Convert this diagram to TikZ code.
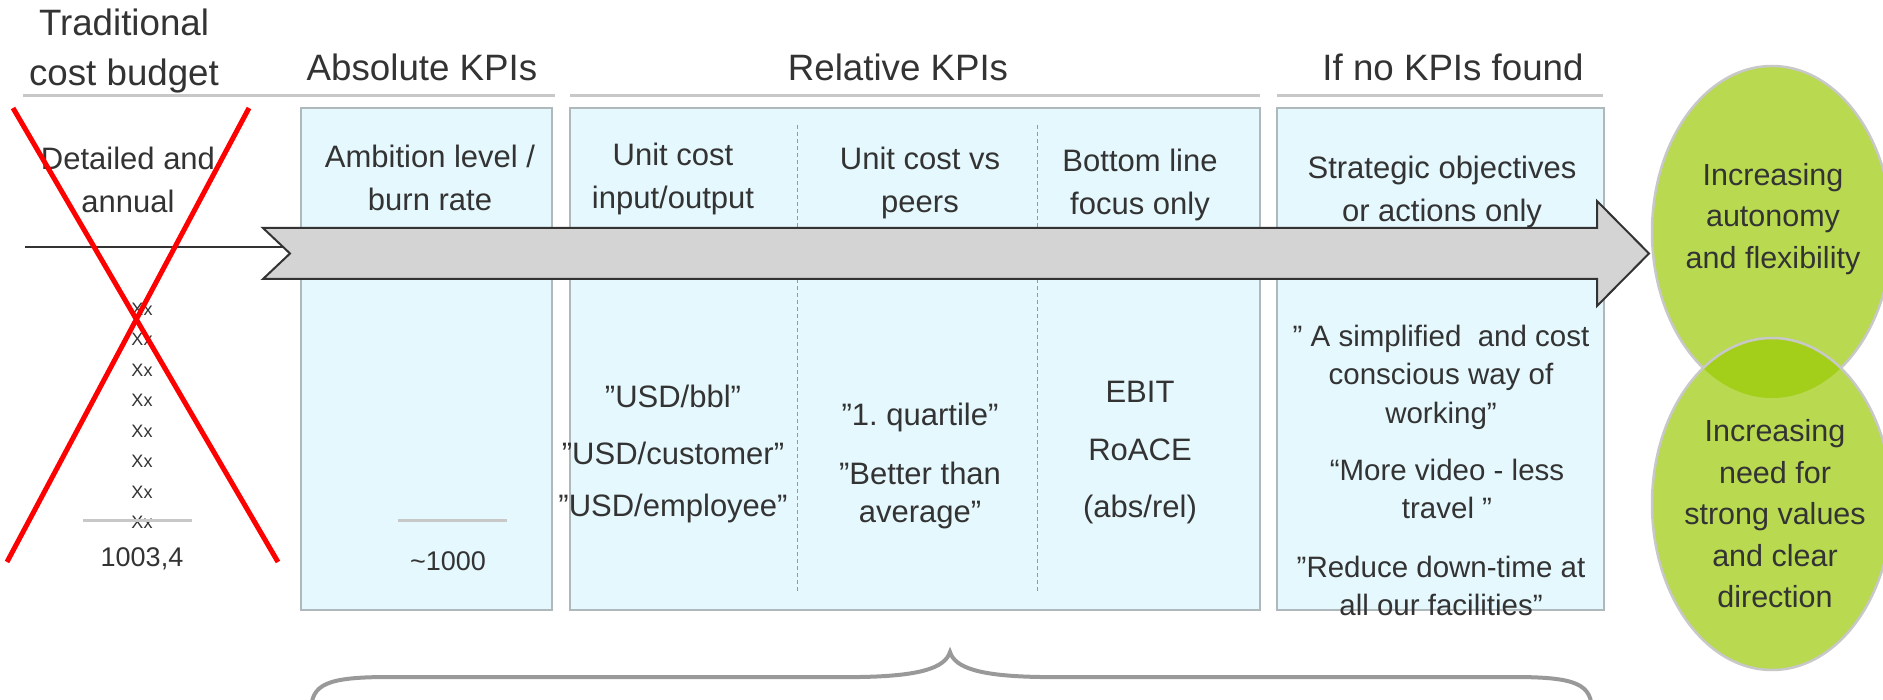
\documentclass[tikz,border=0pt]{standalone}
\usepackage{fontspec}
\setmainfont{Liberation Sans}
\usetikzlibrary{positioning,fit,shapes.geometric}
\frenchspacing
\definecolor{kpitext}{RGB}{51,51,51}
\definecolor{kpibox}{RGB}{229,248,253}
\definecolor{kpiedge}{RGB}{175,185,188}
\definecolor{kpirule}{RGB}{200,200,200}
\definecolor{kpiarrow}{RGB}{212,212,212}
\definecolor{kpigreen}{RGB}{184,217,80}
\definecolor{kpigreendark}{RGB}{163,206,26}
\definecolor{kpibrace}{RGB}{153,153,153}

\begin{document}
\begin{tikzpicture}[x=1pt, y=-1pt,
    every node/.style={text=kpitext, inner sep=0pt},
    head/.style={font=\fontsize{36.7}{50}\selectfont, align=center},
    colhead/.style={font=\fontsize{31}{43}\selectfont, align=center},
    quote/.style={font=\fontsize{29.5}{38.5}\selectfont, align=center},
    tally/.style={font=\fontsize{18}{20}\selectfont},
    amount/.style={font=\fontsize{27}{30}\selectfont},
    bubbletext/.style={font=\fontsize{30.5}{41.5}\selectfont, align=center},
    panel/.style={draw=kpiedge, fill=kpibox, line width=1.2pt},
    headrule/.style={draw=kpirule, line width=3pt},
    sumrule/.style={draw=kpirule, line width=3pt},
    divider/.style={draw=black!40, line width=0.9pt, dash pattern=on 4pt off 3pt},
    cross/.style={draw=red, line width=5pt},
    lead/.style={draw=kpitext, line width=1.6pt},
    bigarrow/.style={draw=kpitext, fill=kpiarrow, line width=2pt, line join=miter},
    bubble/.style={ellipse, draw=kpirule, line width=2.5pt, fill=kpigreen, minimum width=240pt, minimum height=332pt},
    bracket/.style={draw=kpibrace, line width=4pt}
]
\useasboundingbox (0,0) rectangle (1883,700);
\clip (0,0) rectangle (1883,700);

% headings
\node[head] (tradhead) at (124,51) {Traditional\\cost budget};
\node[head] (abshead) at (422,67) {Absolute KPIs};
\node[head] (relhead) at (898,67) {Relative KPIs};
\node[head] (nohead) at (1453,67) {If no KPIs found};
\draw[headrule] (23,96) -- (555,96);
\draw[headrule] (570,96) -- (1260,96);
\draw[headrule] (1277,96) -- (1603,96);

% panels
\node[panel, fit={(301,108) (552,610)}] (absbox) {};
\node[panel, fit={(570,108) (1260,610)}] (relbox) {};
\node[panel, fit={(1277,108) (1604,610)}] (nobox) {};
\draw[divider] (797,125) -- (797,592);
\draw[divider] (1037,125) -- (1037,592);

% column heads
\node[colhead] (detailed) at (128,180) {Detailed and\\annual};
\node[colhead] (ambition) at (430,178) {Ambition level /\\burn rate};
\node[colhead] (unitcost) at (673,179) {Unit cost\\input/output};
\node[colhead] (unitpeers) at (920,183) {Unit cost vs\\peers};
\node[colhead] (bottomline) at (1140,185) {Bottom line\\focus only};
\node[colhead] (strategic) at (1442,192) {Strategic objectives\\or actions only};

% traditional budget figures
\foreach \i in {0,...,7}
  \node[tally] (xx\i) at (142,309+30.5*\i) {Xx};
\draw[sumrule] (83,520) -- (192,520);
\node[amount] (tradsum) at (142,559) {1003,4};

% absolute
\draw[sumrule] (398,520) -- (507,520);
\node[amount] (abssum) at (448,561) {\textasciitilde1000};

% relative
\node[colhead] (usdbbl) at (673,396) {”USD/bbl”};
\node[colhead] (usdcust) at (673,453) {”USD/customer”};
\node[colhead] (usdempl) at (673,508) {”USD/employee”};
\node[colhead] (quartile) at (920,417) {”1. quartile”};
\node[colhead, font=\fontsize{31}{38}\selectfont] (better) at (920,495) {”Better than\\average”};
\node[colhead] (ebit) at (1140,392) {EBIT};
\node[colhead] (roace) at (1140,450) {RoACE};
\node[colhead] (absrel) at (1140,509) {(abs/rel)};

% no KPIs
\node[quote] (simplified) at (1441,377) {” A simplified\ \ and cost\\conscious way of\\working”};
\node[quote] (video) at (1447,489) {“More video - less\\travel\ ”};
\node[quote] (downtime) at (1441,586) {”Reduce down-time at\\all our facilities”};

% main arrow
\coordinate (leadstart) at (25,247);
\coordinate (notch) at (283,247);
\draw[lead] (leadstart) -- (notch);
\draw[bigarrow] (263,228) -- (1597,228) -- (1597,201) -- (1649,253.5)
  -- (1597,306) -- (1597,279) -- (263,279) -- (290,253.5) -- cycle;

% crossed out budget
\draw[cross] (13,108) -- (278,562);
\draw[cross] (249,108) -- (7,562);

% outcome bubbles
\node[bubble] (autonomy) at (1772,232) {};
\node[bubble, path picture={\fill[kpigreendark] (autonomy.center) ellipse [x radius=120pt, y radius=166pt];}] (values) at (1772,504) {};
\node[bubbletext] (autotext) at (1773,219) {Increasing\\autonomy\\and flexibility};
\node[bubbletext] (valuetext) at (1775,514) {Increasing\\need for\\strong values\\and clear\\direction};

% brace
\coordinate (bracetip) at (950,652);
\draw[bracket] (311,712) .. controls (311,684) and (326,677) .. (390,677) -- (860,677)
  .. controls (920,676) and (945,668) .. (bracetip)
  .. controls (955,668) and (980,676) .. (1040,677) -- (1513,677)
  .. controls (1577,677) and (1592,684) .. (1592,712);
\end{tikzpicture}
\end{document}
